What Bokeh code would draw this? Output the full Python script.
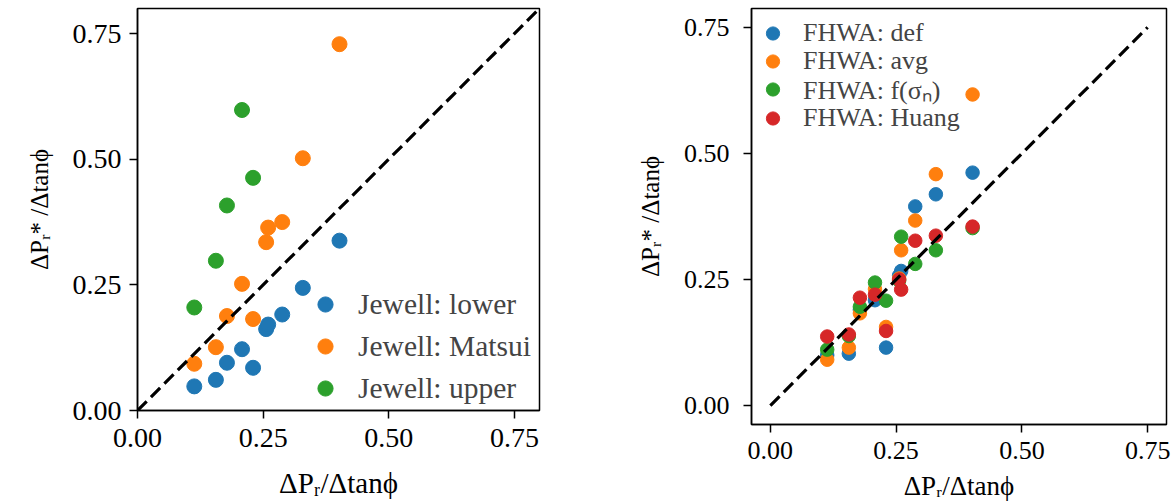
from bokeh.plotting import figure
from bokeh.models import (Range1d, FixedTicker, PrintfTickFormatter, Legend,
                          LegendItem)
from bokeh.layouts import row, column
from bokeh.embed import file_html
from bokeh.resources import INLINE

# ---------------- data ----------------
x_vals = [0.113, 0.156, 0.178, 0.208, 0.230, 0.256, 0.260, 0.288, 0.329, 0.402]

jewell_lower = [0.048, 0.061, 0.095, 0.122, 0.085, 0.162, 0.171, 0.191, 0.244, 0.338]
jewell_matsui = [0.093, 0.126, 0.188, 0.252, 0.182, 0.335, 0.364, 0.375, 0.502, 0.729]
upper_x = [0.113, 0.156, 0.178, 0.208, 0.230]
jewell_upper = [0.205, 0.298, 0.408, 0.598, 0.463]

fhwa_def = [0.100, 0.103, 0.190, 0.209, 0.115, 0.258, 0.267, 0.395, 0.419, 0.462]
fhwa_avg = [0.091, 0.115, 0.183, 0.231, 0.156, 0.252, 0.308, 0.367, 0.459, 0.617]
fhwa_fsn = [0.111, 0.138, 0.196, 0.244, 0.208, 0.248, 0.335, 0.281, 0.308, 0.352]
fhwa_huang = [0.137, 0.141, 0.214, 0.220, 0.148, 0.250, 0.230, 0.327, 0.337, 0.355]

tick_values = [0.0, 0.25, 0.50, 0.75]
left_diag = [0.0, 1.0]
right_diag = [0.0, 0.75]

left_labels = ["Jewell: lower", "Jewell: Matsui", "Jewell: upper"]
right_labels = ["FHWA: def", "FHWA: avg", "FHWA: f(σₙ)", "FHWA: Huang"]
x_label = "ΔPᵣ/Δtanϕ"
y_label = "ΔPᵣ* /Δtanϕ"

C_BLUE, C_ORANGE, C_GREEN, C_RED = "#1f77b4", "#ff7f0e", "#2ca02c", "#d62728"
FONT = "Liberation Serif"


def style(p, tick_size, label_size_x, label_size_y, x_stand, y_stand, xl_stand, yl_stand):
    p.outline_line_color = "black"
    p.outline_line_width = 1.5
    p.outline_line_alpha = 1.0
    p.grid.visible = False
    p.background_fill_color = "white"
    p.border_fill_color = "white"
    for ax, standoff, lsize, lstand in ((p.xaxis[0], x_stand, label_size_x, xl_stand),
                                        (p.yaxis[0], y_stand, label_size_y, yl_stand)):
        ax.ticker = FixedTicker(ticks=tick_values)
        ax.formatter = PrintfTickFormatter(format="%.2f")
        ax.major_tick_out = 8
        ax.major_tick_in = 0
        ax.minor_tick_out = 0
        ax.minor_tick_in = 0
        ax.major_tick_line_width = 1.5
        ax.major_tick_line_color = "black"
        ax.axis_line_width = 1.5
        ax.axis_line_color = "black"
        ax.major_label_text_font = FONT
        ax.major_label_text_font_size = tick_size
        ax.major_label_text_color = "black"
        ax.major_label_standoff = standoff
        ax.axis_label_text_font = FONT
        ax.axis_label_text_font_size = lsize
        ax.axis_label_text_font_style = "normal"
        ax.axis_label_text_color = "black"
        ax.axis_label_standoff = lstand
    p.xaxis[0].axis_label = x_label
    p.yaxis[0].axis_label = y_label


def make_legend(items, loc, font_size, gw, gh, spacing, standoff):
    lg = Legend(items=items, location=loc)
    lg.border_line_color = None
    lg.background_fill_alpha = 0
    lg.label_text_font = FONT
    lg.label_text_font_size = font_size
    lg.glyph_width = gw
    lg.glyph_height = gh
    lg.label_height = gh
    lg.spacing = spacing
    lg.padding = 0
    lg.margin = 0
    lg.label_standoff = standoff
    return lg


# ---------------- left panel ----------------
L_W, L_H = 600, 504
p1 = figure(width=L_W, height=L_H, output_backend="svg", toolbar_location=None,
            x_range=Range1d(0, 0.8), y_range=Range1d(0, 0.8),
            min_border_left=137, min_border_right=L_W - 137 - 402,
            min_border_top=8, min_border_bottom=L_H - 8 - 402)
style(p1, "28px", "29px", "25px", 10, 8, 17, 17)

r1 = p1.scatter(x_vals, jewell_lower, size=15, color=C_BLUE)
r2 = p1.scatter(x_vals, jewell_matsui, size=15, color=C_ORANGE)
r3 = p1.scatter(upper_x, jewell_upper, size=15, color=C_GREEN)
p1.line(left_diag, left_diag, line_color="black", line_width=3.2, line_dash="13 6")

leg1 = make_legend([LegendItem(label=t, renderers=[r]) for t, r in
                    zip(left_labels, (r1, r2, r3))],
                   (169, 3), "29.5px", 38, 38, 4, 14)
p1.add_layout(leg1)

# ---------------- right panel ----------------
R_W, R_H = 574, 504
p2 = figure(width=R_W, height=R_H, output_backend="svg", toolbar_location=None,
            x_range=Range1d(-0.0375, 0.7875), y_range=Range1d(-0.0375, 0.7875),
            min_border_left=151, min_border_right=R_W - 151 - 415,
            min_border_top=8, min_border_bottom=R_H - 8 - 416)
style(p2, "26px", "27px", "25px", 9, 14, 9, 17)

s1 = p2.scatter(x_vals, fhwa_def, size=13.5, color=C_BLUE)
s2 = p2.scatter(x_vals, fhwa_avg, size=13.5, color=C_ORANGE)
s3 = p2.scatter(x_vals, fhwa_fsn, size=13.5, color=C_GREEN)
s4 = p2.scatter(x_vals, fhwa_huang, size=13.5, color=C_RED)
p2.line(right_diag, right_diag, line_color="black", line_width=3.2, line_dash="13 6")

# one single-row legend per series, so the row pitch matches the reference
row_bottoms = [373, 345, 317, 288]   # legend box bottom, px above frame bottom
for t, r, yb in zip(right_labels, (s1, s2, s3, s4), row_bottoms):
    p2.add_layout(make_legend([LegendItem(label=t, renderers=[r])],
                              (5, yb), "26px", 33, 36, 0, 14))

layout = row(column(p1), column(p2))
open("out.html", "w").write(file_html(layout, INLINE))
